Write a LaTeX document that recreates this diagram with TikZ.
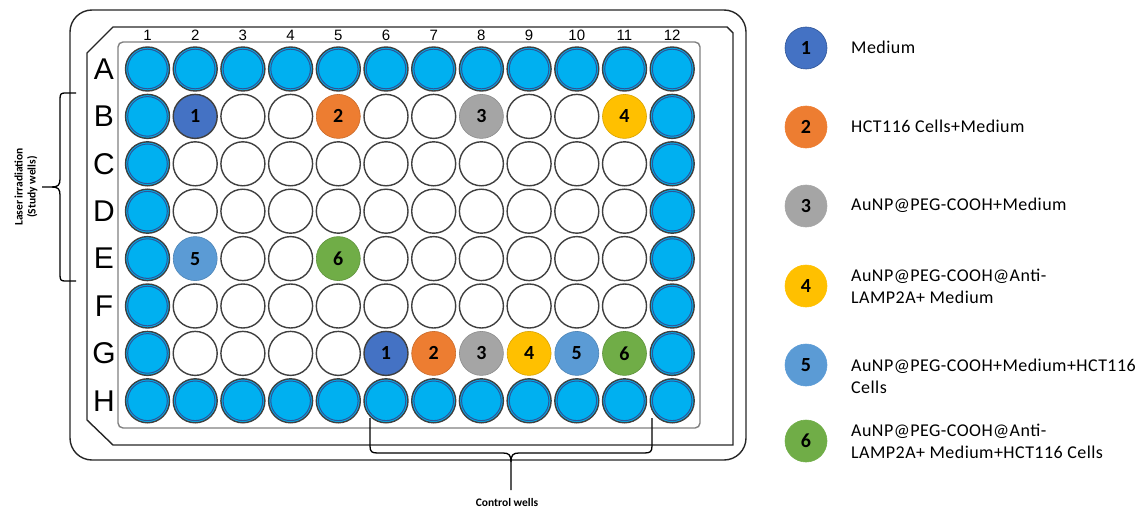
\documentclass[tikz,border=0pt]{standalone}
\usepackage{fontspec}
\setmainfont{Carlito}
\newfontfamily\arialf{Liberation Sans}
\newfontfamily\legfont[LetterSpace=2.5]{Carlito}
\definecolor{wellblue}{HTML}{00B0F0}
\definecolor{ringgray}{HTML}{3F3F3F}
\definecolor{innerblue}{HTML}{2F5597}
\definecolor{cA}{HTML}{4472C4}
\definecolor{cB}{HTML}{ED7D31}
\definecolor{cC}{HTML}{A5A5A5}
\definecolor{cD}{HTML}{FFC000}
\definecolor{cE}{HTML}{5B9BD5}
\definecolor{cF}{HTML}{70AD47}
\definecolor{platedark}{HTML}{262626}
\definecolor{plategray}{HTML}{808080}
\tikzset{
  well/.style={circle, minimum size=44pt, inner sep=0pt, line width=1.4pt, font=\bfseries\fontsize{20}{20}\selectfont},
  bluewell/.style={well, fill=wellblue, draw=ringgray},
  whitewell/.style={well, fill=white, draw=ringgray},
  innerring/.style={draw=innerblue, line width=1pt},
  num1/.style={well, fill=cA, draw=ringgray},
  num2/.style={well, fill=cB, draw=cB!85!black, line width=0.6pt},
  num3/.style={well, fill=cC, draw=cC!85!black, line width=0.6pt},
  num4/.style={well, fill=cD, draw=cD!85!black, line width=0.6pt},
  num5/.style={well, fill=cE, draw=cE!85!black, line width=0.6pt},
  num6/.style={well, fill=cF, draw=cF!85!black, line width=0.6pt},
  legdot/.style={circle, minimum size=42pt, inner sep=0pt, line width=0.6pt, font=\bfseries\fontsize{20}{20}\selectfont},
  legtext/.style={anchor=west, align=left, inner sep=0pt, font=\legfont\fontsize{18}{22}\selectfont},
  collab/.style={font=\arialf\fontsize{15}{15}\selectfont, inner sep=0pt},
  rowlab/.style={font=\arialf\fontsize{30}{30}\selectfont, inner sep=0pt},
  bracepath/.style={draw=black, line width=1.3pt},
  smalltext/.style={font=\bfseries\fontsize{11.5}{13}\selectfont, align=center, inner sep=0pt},
  outerplate/.style={draw=platedark, line width=1.4pt},
  innerplate/.style={draw=plategray, line width=1.4pt, rounded corners=5pt}
}
\begin{document}
\begin{tikzpicture}[x=1pt,y=-1pt]
\useasboundingbox (0,0) rectangle (1147,511);
% plate outlines
\draw[outerplate, rounded corners=22pt] (70,10) rectangle (746,460);
\draw[outerplate] (113,27) -- (727,27) -- (733,33) -- (733,445) -- (113,445) -- (87,420) -- (87,53) -- cycle;
\draw[innerplate] (118,42) rectangle (700,428);
% numbered wells lookup
\foreach \w/\n in {B2/1,B5/2,B8/3,B11/4,E2/5,E5/6,G6/1,G7/2,G8/3,G9/4,G10/5,G11/6}{
  \expandafter\xdef\csname num\w\endcsname{\n}}
% wells
\foreach \r [count=\ri] in {A,B,C,D,E,F,G,H}{
  \pgfmathsetmacro\yy{69+47.4*(\ri-1)}
  \node[rowlab] (row\r) at (104,\yy) {\r};
  \foreach \c in {1,...,12}{
    \pgfmathsetmacro\xx{147.5+47.7*(\c-1)}
    \pgfmathtruncatemacro\isblue{or(or(\ri==1,\ri==8),or(\c==1,\c==12))}
    \ifcsname num\r\c\endcsname
      \edef\nn{\csname num\r\c\endcsname}
      \node[num\nn] (w\r\c) at (\xx,\yy) {\nn};
    \else
      \ifnum\isblue=1
        \node[bluewell] (w\r\c) at (\xx,\yy) {};
        \draw[innerring] (w\r\c.center) circle (19.8pt);
      \else
        \node[whitewell] (w\r\c) at (\xx,\yy) {};
      \fi
    \fi
  }
}
% column labels
\foreach \c in {1,...,12}{
  \pgfmathsetmacro\xx{147.5+47.7*(\c-1)}
  \node[collab] (col\c) at (\xx,35) {\c};
}
% left brace
\coordinate (lbt) at (76,93);
\coordinate (lbb) at (76,281);
\coordinate (lbtip) at (42,187);
\draw[bracepath] (lbt) -- (65,93) .. controls (61,93) and (60,94) .. (60,99) -- (60,179) .. controls (60,185) and (58,187) .. (52,187) -- (lbtip);
\draw[bracepath] (lbb) -- (65,281) .. controls (61,281) and (60,280) .. (60,275) -- (60,195) .. controls (60,189) and (58,187) .. (52,187);
\node[smalltext, rotate=90] (laser) at (26,187) {Laser irradiation\\(Study wells)};
% bottom brace
\coordinate (bbl) at (370,418);
\coordinate (bbr) at (652,418);
\coordinate (bbtip) at (511,490);
\draw[bracepath] (bbl) -- (370,446) .. controls (370,452) and (372,453) .. (378,453) -- (503,453) .. controls (509,453) and (511,455) .. (511,462) -- (bbtip);
\draw[bracepath] (bbr) -- (652,446) .. controls (652,452) and (650,453) .. (644,453) -- (519,453) .. controls (513,453) and (511,455) .. (511,462);
\node[smalltext] (control) at (507,502) {Control wells};
% legend
\node[legdot, fill=cA, draw=innerblue] (leg1) at (806,48) {1};
\node[legdot, fill=cB, draw=cB] (leg2) at (806,127) {2};
\node[legdot, fill=cC, draw=cC] (leg3) at (806,206) {3};
\node[legdot, fill=cD, draw=cD] (leg4) at (806,286) {4};
\node[legdot, fill=cE, draw=cE] (leg5) at (806,365) {5};
\node[legdot, fill=cF, draw=cF] (leg6) at (806,441) {6};
\node[legtext] (lab1) at (851,47) {Medium};
\node[legtext] (lab2) at (851,126) {HCT116 Cells+Medium};
\node[legtext] (lab3) at (851,205) {AuNP@PEG-COOH+Medium};
\node[legtext] (lab4) at (851,286) {AuNP@PEG-COOH@Anti-\\LAMP2A+ Medium};
\node[legtext] (lab5) at (851,376) {AuNP@PEG-COOH+Medium+HCT116\\Cells};
\node[legtext] (lab6) at (851,441) {AuNP@PEG-COOH@Anti-\\LAMP2A+ Medium+HCT116 Cells};
\end{tikzpicture}
\end{document}
